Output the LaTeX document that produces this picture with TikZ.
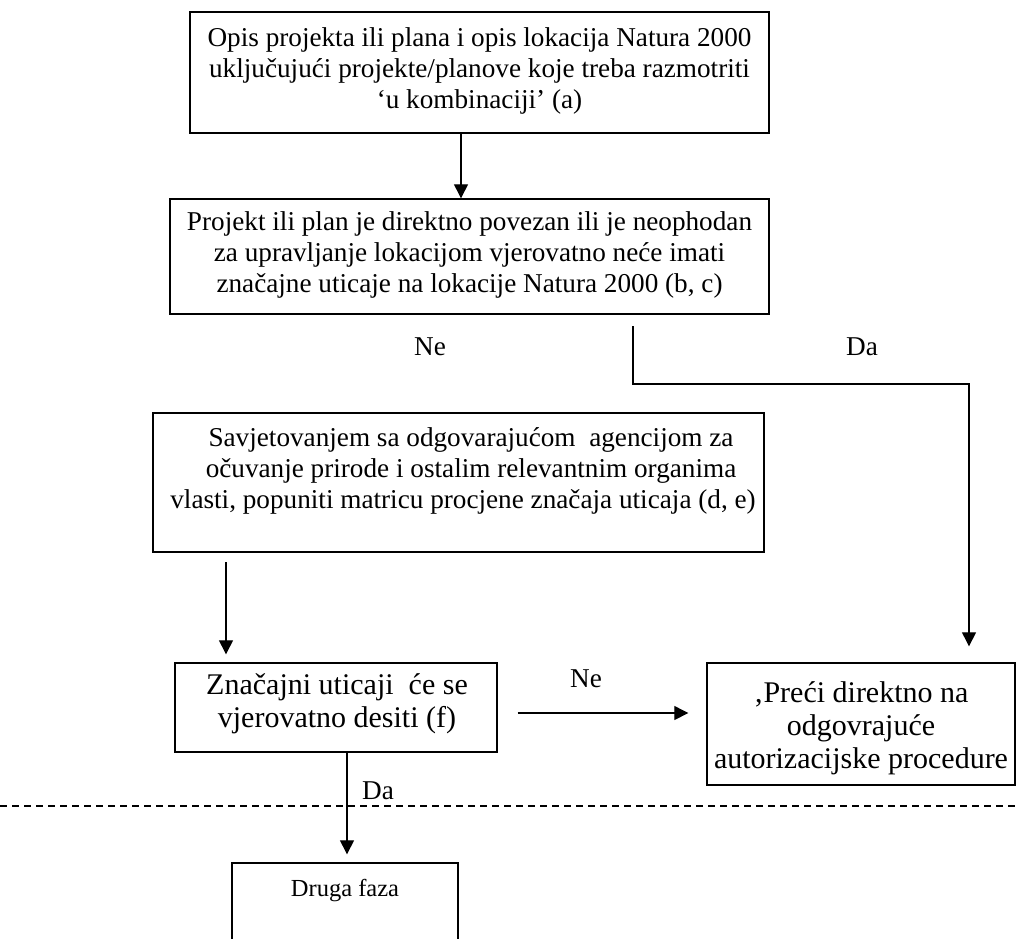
\documentclass[tikz,border=0pt]{standalone}
\usepackage{fontspec}
\setmainfont{Liberation Serif}
\usetikzlibrary{arrows.meta}
\begin{document}
\begin{tikzpicture}[x=1pt,y=-1pt,
  frame/.style={draw, line width=1.4pt, inner sep=0pt},
  txt/.style={inner sep=0pt, align=center, font=\fontsize{27.2}{31}\selectfont},
  big/.style={inner sep=0pt, align=center, font=\fontsize{30}{33}\selectfont},
  small/.style={inner sep=0pt, align=center, font=\fontsize{24.5}{28}\selectfont},
  conn/.style={line width=1.3pt},
  arr/.style={conn, -{Triangle[length=14pt,width=14pt]}},
  divider/.style={line width=1.1pt, dash pattern=on 7pt off 5pt},
]
\useasboundingbox (0,0) rectangle (1016,938);
\clip (0,0) rectangle (1016,938);

% boxes
\node[frame, minimum width=579pt, minimum height=121pt] (b1) at (479.5,72.5) {};
\node[txt] (t1) at (479.5,71) {Opis projekta ili plana i opis lokacija Natura 2000\\
  uključujući projekte/planove koje treba razmotriti\\ ‘u kombinaciji’ (a)};

\node[frame, minimum width=599pt, minimum height=115pt] (b2) at (469.5,256.5) {};
\node[txt] (t2) at (469.5,255) {Projekt ili plan je direktno povezan ili je neophodan\\
  za upravljanje lokacijom vjerovatno neće imati\\
  značajne uticaje na lokacije Natura 2000 (b, c)};

\node[frame, minimum width=611pt, minimum height=139pt] (b3) at (458.5,482.5) {};
\node[txt] (t3) at (463,471) {\hspace*{16pt}Savjetovanjem sa odgovarajućom\ \ agencijom za\\
  \hspace*{16pt}očuvanje prirode i ostalim relevantnim organima\\
  vlasti, popuniti matricu procjene značaja uticaja (d, e)};

\node[frame, minimum width=322pt, minimum height=89pt] (b4) at (336,707.5) {};
\node[big] (t4) at (337,704) {Značajni uticaji\ \ će se\\ vjerovatno desiti (f)};

\node[frame, minimum width=308pt, minimum height=122pt] (b5) at (861,724) {};
\node[big] (t5) at (861,728) {‚Preći direktno na\\ odgovrajuće\\ autorizacijske procedure};

\node[frame, minimum width=226pt, minimum height=140pt] (b6) at (345,933) {};
\node[small] (t6) at (345,890) {Druga faza};

% anchor points of the connectors
\coordinate (c1) at (461,0);
\coordinate (d0) at (633,326);
\coordinate (d1) at (969,384);
\coordinate (e0) at (226,562);
\coordinate (f0) at (0,713);
\coordinate (g0) at (347,0);

% connectors
\draw[arr] (b1.south -| c1) -- (b2.north -| c1);
\draw[arr, shorten >=16pt] (d0) |- (d1) -- (b5.north -| d1);
\draw[arr, shorten >=8pt] (e0) -- (b4.north -| e0);
\draw[arr, shorten <=20pt, shorten >=18pt] (b4.east |- f0) -- (b5.west |- f0);
\draw[arr, shorten >=8pt] (b4.south -| g0) -- (b6.north -| g0);

% divider
\draw[divider] (0,806) -- (1016,806);

% branch labels
\node[txt] (ne1) at (430,347) {Ne};
\node[txt] (da1) at (862,347) {Da};
\node[txt] (ne2) at (586,679) {Ne};
\node[txt] (da2) at (378,791) {Da};
\end{tikzpicture}
\end{document}
